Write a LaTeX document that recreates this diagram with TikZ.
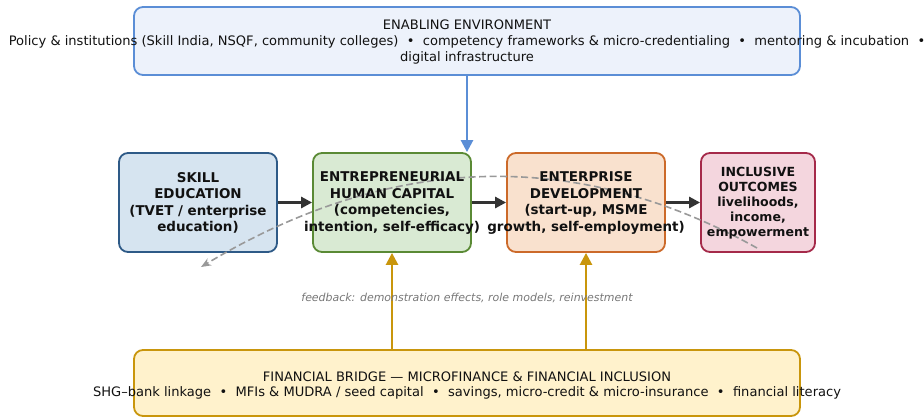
\documentclass[tikz,border=0pt]{standalone}
\usepackage{fontspec}
\setmainfont{DejaVu Sans}
\usetikzlibrary{arrows.meta}

% palette
\definecolor{ink}{HTML}{111111}
\definecolor{envfill}{HTML}{EDF2FB}
\definecolor{envline}{HTML}{5B8ED6}
\definecolor{skillfill}{HTML}{D6E4F0}
\definecolor{skillline}{HTML}{2E5A87}
\definecolor{capfill}{HTML}{D9EAD3}
\definecolor{capline}{HTML}{5A8A35}
\definecolor{entfill}{HTML}{F9E1CE}
\definecolor{entline}{HTML}{CC6A2A}
\definecolor{outfill}{HTML}{F4D6DE}
\definecolor{outline}{HTML}{A52A4A}
\definecolor{finfill}{HTML}{FFF2CC}
\definecolor{finline}{HTML}{C9960C}
\definecolor{flowgray}{HTML}{333333}
\definecolor{loopgray}{HTML}{999999}
\definecolor{notegray}{HTML}{777777}

\newcommand{\sepdot}{\hspace{0.64em}•\hspace{0.64em}}

\begin{document}
\begin{tikzpicture}[x=1bp, y=-1bp,
  panel/.style={draw, line width=1.8bp, rounded corners=9bp, inner sep=0pt},
  stage/.style={panel, minimum height=99bp},
  stagetext/.style={align=center, text=ink, inner sep=0pt,
    font=\bfseries\fontsize{13.5}{16.5}\selectfont},
  bandtext/.style={align=center, text=ink, inner sep=0pt,
    font=\fontsize{13.1}{16}\selectfont},
  flow/.style={-{Triangle[length=11bp,width=11bp]}, line width=2.9bp, draw=flowgray},
  feed/.style={-{Triangle[length=12bp,width=12bp]}, line width=2.5bp},
  loop/.style={dashed, dash pattern=on 7bp off 3.5bp, line width=1.6bp, draw=loopgray,
    -{Stealth[length=10bp,width=8bp]}},
]
\useasboundingbox (0,0) rectangle (924,417);
\clip (0,0) rectangle (924,417);

% frames
\node[panel, fill=envfill, draw=envline, minimum width=666bp, minimum height=68bp] (env) at (467,41) {};
\node[stage, fill=skillfill, draw=skillline, minimum width=158bp] (skill) at (198,202.5) {};
\node[stage, fill=capfill, draw=capline, minimum width=158bp] (cap) at (392,202.5) {};
\node[stage, fill=entfill, draw=entline, minimum width=158bp] (ent) at (586,202.5) {};
\node[stage, fill=outfill, draw=outline, minimum width=114bp] (out) at (758,202.5) {};
\node[panel, fill=finfill, draw=finline, minimum width=666bp, minimum height=66bp] (fin) at (467,383) {};

% main chain
\draw[flow] (skill.east) -- (cap.west);
\draw[flow] (cap.east) -- (ent.west);
\draw[flow] (ent.east) -- (out.west);

% enabling and financing inputs
\draw[feed, draw=envline] (env.south) -- (env.south |- cap.north);
\draw[feed, draw=finline] (fin.north -| cap.south) -- (cap.south);
\draw[feed, draw=finline] (fin.north -| ent.south) -- (ent.south);

% feedback loop
\coordinate (fbstart) at (757,248);
\coordinate (fbend) at (201,267);
\draw[loop] (fbstart) .. controls (575.7,147) and (390.3,153.3) .. (fbend);
\node[text=notegray, font=\itshape\fontsize{11}{13}\selectfont, inner sep=0pt] (fbnote) at (467,298)
  {feedback: demonstration effects, role models, reinvestment};

% texts
\node[bandtext] (envtxt) at (467,42)
  {ENABLING ENVIRONMENT\\
   Policy \& institutions (Skill India, NSQF, community colleges)\sepdot competency frameworks \& micro-credentialing\sepdot mentoring \& incubation\sepdot\\
   digital infrastructure};
\node[stagetext] (skilltxt) at (198,203) {SKILL\\EDUCATION\\(TVET / enterprise\\education)};
\node[stagetext] (captxt) at (392,203) {ENTREPRENEURIAL\\HUMAN CAPITAL\\(competencies,\\intention, self-efficacy)};
\node[stagetext] (enttxt) at (586,203) {ENTERPRISE\\DEVELOPMENT\\(start-up, MSME\\growth, self-employment)};
\node[stagetext, font=\bfseries\fontsize{12.6}{15.2}\selectfont] (outtxt) at (758,203)
  {INCLUSIVE\\OUTCOMES\\livelihoods,\\income,\\empowerment};
\node[bandtext] (fintxt) at (467,385.5)
  {FINANCIAL BRIDGE — MICROFINANCE \& FINANCIAL INCLUSION\\
   SHG–bank linkage\sepdot MFIs \& MUDRA / seed capital\sepdot savings, micro-credit \& micro-insurance\sepdot financial literacy};
\end{tikzpicture}
\end{document}
